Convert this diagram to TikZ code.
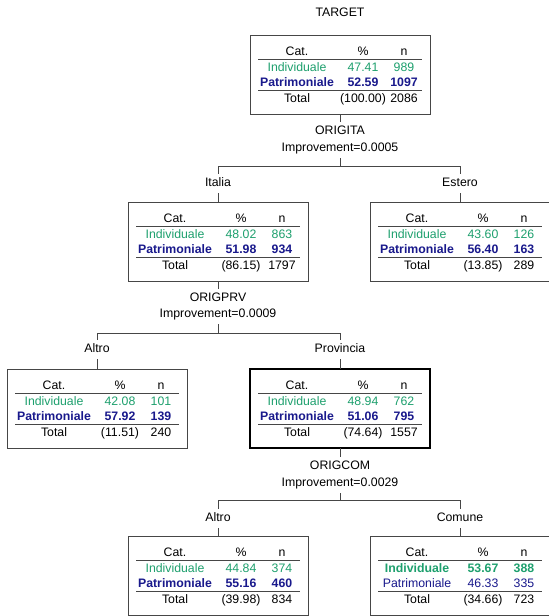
\documentclass[tikz,border=0pt]{standalone}
\usepackage{fontspec}
\setmainfont{Liberation Sans}
\definecolor{indgreen}{RGB}{30,160,110}
\definecolor{patblue}{RGB}{25,25,140}
\definecolor{linegray}{RGB}{70,70,70}
\newcommand\fsz{\fontsize{12.3pt}{14pt}\selectfont}
\tikzset{
  txt/.style={font=\fsz, inner sep=0pt, anchor=base, text=black},
  ind/.style={txt, text=indgreen},
  indb/.style={txt, text=indgreen, font=\fsz\bfseries},
  pat/.style={txt, text=patblue},
  patb/.style={txt, text=patblue, font=\fsz\bfseries},
  box/.style={rectangle, draw=linegray, line width=1pt, minimum width=180pt,
    minimum height=79pt, inner sep=0pt, outer sep=0pt, anchor=north},
  selbox/.style={box, draw=black, line width=2.4pt},
  lbl/.style={font=\fsz, inner xsep=2pt, inner ysep=4pt, text height=8.8pt,
    text depth=2.6pt, anchor=base},
  conn/.style={draw=linegray, line width=1pt},
  rulel/.style={draw=linegray, line width=1.3pt},
}
\newcommand\catbox[4]{\node[#2] (#1) at (#3,#4) {};\def\curbox{#1}}
\newcommand\catrows[8]{%
  \node[txt] (\curbox-h1) at ([shift={(47,20.5)}]\curbox.north west) {Cat.};
  \node[txt] (\curbox-h2) at ([shift={(113,20.5)}]\curbox.north west) {\%};
  \node[txt] (\curbox-h3) at ([shift={(154,20.5)}]\curbox.north west) {n};
  \draw[rulel] ([shift={(8,24.5)}]\curbox.north west) -- ([shift={(172,24.5)}]\curbox.north west);
  \node[#1] (\curbox-i1) at ([shift={(47,36)}]\curbox.north west) {Individuale};
  \node[#1] (\curbox-i2) at ([shift={(113,36)}]\curbox.north west) {#2};
  \node[#1] (\curbox-i3) at ([shift={(154,36)}]\curbox.north west) {#3};
  \node[#4] (\curbox-p1) at ([shift={(47,51)}]\curbox.north west) {Patrimoniale};
  \node[#4] (\curbox-p2) at ([shift={(113,51)}]\curbox.north west) {#5};
  \node[#4] (\curbox-p3) at ([shift={(154,51)}]\curbox.north west) {#6};
  \draw[rulel] ([shift={(8,55.5)}]\curbox.north west) -- ([shift={(172,55.5)}]\curbox.north west);
  \node[txt] (\curbox-t1) at ([shift={(47,67)}]\curbox.north west) {Total};
  \node[txt] (\curbox-t2) at ([shift={(113,67)}]\curbox.north west) {#7};
  \node[txt] (\curbox-t3) at ([shift={(154,67)}]\curbox.north west) {#8};
}
\begin{document}
\begin{tikzpicture}[x=1pt,y=-1pt]
\useasboundingbox[fill=white] (0,0) rectangle (549,616);

% title
\node[lbl] (title) at (340,16) {TARGET};

% root
\catbox{root}{box}{340}{35}
\catrows{ind}{47.41}{989}{patb}{52.59}{1097}{(100.00)}{2086}

% split 1
\node[lbl] (var1) at (340,134.5) {ORIGITA};
\node[lbl] (imp1) at (340,151.5) {Improvement=0.0005};
\coordinate (f1) at (340,166);
\coordinate (f1l) at (218,166);
\coordinate (f1r) at (460,166);
\draw[conn] (root.south) -- (var1.north);
\draw[conn] (imp1.south) -- (f1);
\draw[conn] (f1l) -- (f1r);
\node[lbl] (italial) at (218,186.5) {Italia};
\node[lbl] (esterol) at (460,186.5) {Estero};
\draw[conn] (f1l) -- (italial.north);
\draw[conn] (f1r) -- (esterol.north);

\catbox{italia}{box}{218}{202}
\catrows{ind}{48.02}{863}{patb}{51.98}{934}{(86.15)}{1797}
\catbox{estero}{box}{460}{202}
\catrows{ind}{43.60}{126}{patb}{56.40}{163}{(13.85)}{289}
\draw[conn] (italial.south) -- (italia.north);
\draw[conn] (esterol.south) -- (estero.north);

% split 2
\node[lbl] (var2) at (218,301.5) {ORIGPRV};
\node[lbl] (imp2) at (218,317.5) {Improvement=0.0009};
\coordinate (f2) at (218,333);
\coordinate (f2l) at (97,333);
\coordinate (f2r) at (340,333);
\draw[conn] (italia.south) -- (var2.north);
\draw[conn] (imp2.south) -- (f2);
\draw[conn] (f2l) -- (f2r);
\node[lbl] (altrol) at (97,352.5) {Altro};
\node[lbl] (provl) at (340,352.5) {Provincia};
\draw[conn] (f2l) -- (altrol.north);
\draw[conn] (f2r) -- (provl.north);

\catbox{altro}{box}{97}{369}
\catrows{ind}{42.08}{101}{patb}{57.92}{139}{(11.51)}{240}
\catbox{prov}{selbox}{340}{369}
\catrows{ind}{48.94}{762}{patb}{51.06}{795}{(74.64)}{1557}
\draw[conn] (altrol.south) -- (altro.north);
\draw[conn] (provl.south) -- (prov.north);

% split 3
\node[lbl] (var3) at (340,469.5) {ORIGCOM};
\node[lbl] (imp3) at (340,486.5) {Improvement=0.0029};
\coordinate (f3) at (340,500);
\coordinate (f3l) at (218,500);
\coordinate (f3r) at (460,500);
\draw[conn] (prov.south) -- (var3.north);
\draw[conn] (imp3.south) -- (f3);
\draw[conn] (f3l) -- (f3r);
\node[lbl] (altro2l) at (218,521.5) {Altro};
\node[lbl] (comunel) at (460,521.5) {Comune};
\draw[conn] (f3l) -- (altro2l.north);
\draw[conn] (f3r) -- (comunel.north);

\catbox{altrob}{box}{218}{536}
\catrows{ind}{44.84}{374}{patb}{55.16}{460}{(39.98)}{834}
\catbox{comune}{box}{460}{536}
\catrows{indb}{53.67}{388}{pat}{46.33}{335}{(34.66)}{723}
\draw[conn] (altro2l.south) -- (altrob.north);
\draw[conn] (comunel.south) -- (comune.north);
\end{tikzpicture}
\end{document}
